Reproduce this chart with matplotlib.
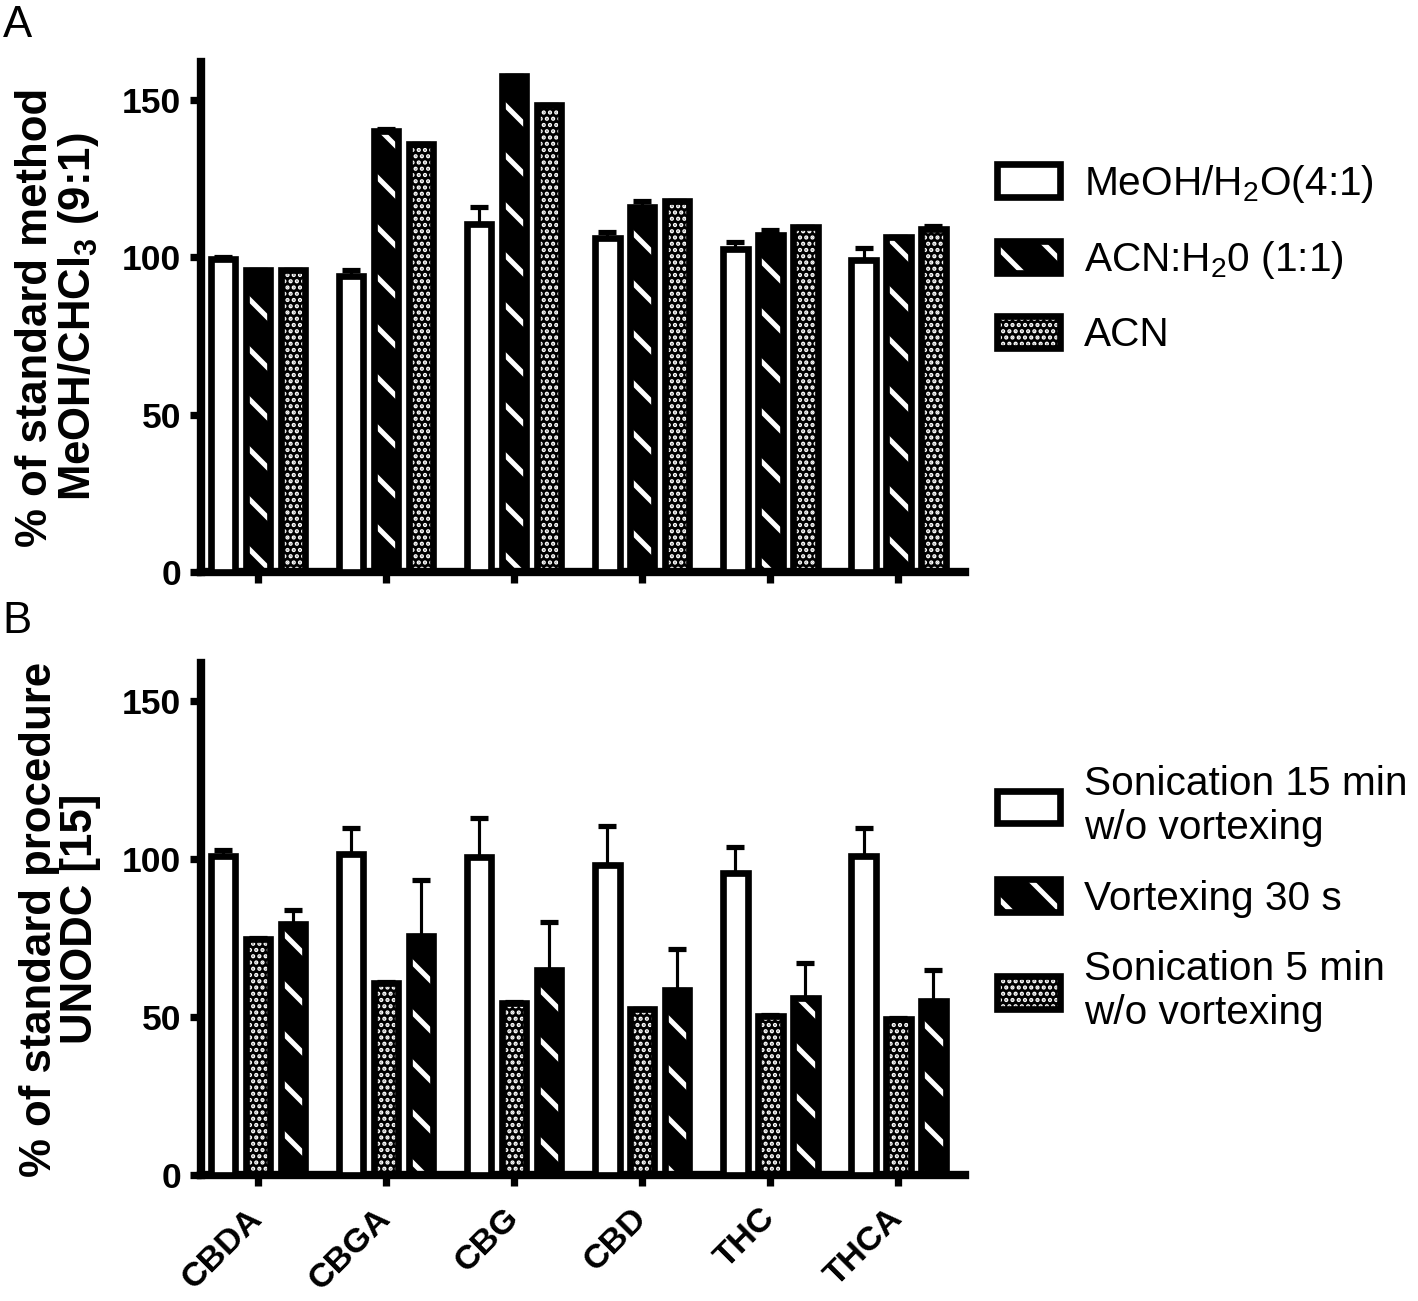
import numpy as np
import matplotlib
matplotlib.use("Agg")
import matplotlib.pyplot as plt
from matplotlib.patches import Patch

plt.rcParams['font.family'] = ['Liberation Sans', 'DejaVu Sans']
plt.rcParams['mathtext.fontset'] = 'custom'
plt.rcParams['mathtext.rm'] = 'Liberation Sans'
plt.rcParams['mathtext.bf'] = 'Liberation Sans:bold'
plt.rcParams['hatch.linewidth'] = 1.6

categories = ['CBDA', 'CBGA', 'CBG', 'CBD', 'THC', 'THCA']

# panel A: extraction solvent vs MeOH/CHCl3 (9:1)
a_meoh = [99.5, 94, 110.5, 106, 102.5, 99]
a_meoh_err = [0.5, 2, 5.5, 2, 2.3, 4]
a_acn_h2o = [96, 140, 157.5, 116, 107, 106.3]
a_acn_h2o_err = [0, 0.7, 0, 1.8, 1.8, 0]
a_acn = [96, 136, 148.5, 118, 109.5, 109]
a_acn_err = [0, 0, 0, 0, 0, 0.8]
a_labels = ['MeOH/H$_2$O(4:1)', 'ACN:H$_2$0 (1:1)', 'ACN']

# panel B: extraction procedure vs UNODC
b_son15 = [101, 101.5, 100.5, 98, 95.5, 101]
b_son15_err = [2, 8.3, 12.6, 12.4, 8.4, 8.7]
b_son5 = [74.7, 60.7, 54.5, 52.4, 50.3, 49.3]
b_son5_err = [0.3, 0.4, 0.2, 0.2, 0.5, 0.4]
b_vortex = [79.5, 75.5, 65, 58.5, 56, 55]
b_vortex_err = [4.5, 18, 15, 13, 11, 10]
b_labels = ['Sonication 15 min\nw/o vortexing', 'Vortexing 30 s', 'Sonication 5 min\nw/o vortexing']

W = 0.19
STEP = 0.273
EDGE = 3.2
STRIPE = '\\'
DOTS = '....'


def draw_bars(ax, x, vals, errs, style):
    if style == 'white':
        ax.bar(x, vals, W, facecolor='white', edgecolor='black', lw=EDGE, zorder=3)
    elif style == 'stripe':
        ax.bar(x, vals, W, facecolor='black', edgecolor='white', hatch=STRIPE, lw=0, zorder=2)
        ax.bar(x, vals, W, facecolor='none', edgecolor='black', lw=EDGE, zorder=3)
    else:
        ax.bar(x, vals, W, facecolor='black', edgecolor='white', hatch=DOTS, lw=0, zorder=2)
        ax.bar(x, vals, W, facecolor='none', edgecolor='black', lw=EDGE, zorder=3)
    ax.errorbar(x, vals, yerr=[np.zeros(len(vals)), errs], fmt='none', ecolor='black',
                elinewidth=1.5, capsize=4.5, capthick=2.5, zorder=4)


def handle(style):
    if style == 'white':
        return Patch(facecolor='white', edgecolor='black', lw=EDGE)
    hatch = STRIPE if style == 'stripe' else DOTS
    return (Patch(facecolor='black', edgecolor='white', hatch=hatch, lw=0),
            Patch(facecolor='none', edgecolor='black', lw=EDGE))


def style_axes(ax, ylabel):
    ax.set_xlim(-0.445, 5.52)
    ax.set_ylim(0, 162)
    ax.set_yticks([0, 50, 100, 150])
    ax.set_xticks(range(len(categories)))
    for s in ['top', 'right']:
        ax.spines[s].set_visible(False)
    for s in ['left', 'bottom']:
        ax.spines[s].set_linewidth(4)
    ax.tick_params(axis='both', width=3.5, length=5.5, labelsize=17, pad=4)
    for lab in ax.get_yticklabels():
        lab.set_fontweight('bold')
    ax.set_ylabel(ylabel, fontsize=21, fontweight='bold', linespacing=1.0, labelpad=10)


fig = plt.figure(figsize=(1418 / 150, 1301 / 150), dpi=150)
axA = fig.add_axes([0.1418, 0.5603, 0.5388, 0.392])
axB = fig.add_axes([0.1418, 0.0968, 0.5388, 0.3935])

x = np.arange(len(categories))
draw_bars(axA, x - STEP, a_meoh, a_meoh_err, 'white')
draw_bars(axA, x, a_acn_h2o, a_acn_h2o_err, 'stripe')
draw_bars(axA, x + STEP, a_acn, a_acn_err, 'dots')
style_axes(axA, '% of standard method\nMeOH/CHCl$_\\mathbf{3}$ (9:1)')
axA.set_xticklabels([])

draw_bars(axB, x - STEP, b_son15, b_son15_err, 'white')
draw_bars(axB, x, b_son5, b_son5_err, 'dots')
draw_bars(axB, x + STEP, b_vortex, b_vortex_err, 'stripe')
style_axes(axB, '% of standard procedure\nUNODC [15]')
axB.set_xticklabels(categories, rotation=45, ha='right', va='center', rotation_mode='anchor',
                    fontsize=16.5, fontweight='bold')
axB.tick_params(axis='x', pad=13)

leg_kw = dict(loc='upper left', frameon=False, borderpad=0, borderaxespad=0, fontsize=19.5,
              handlelength=1.55, handleheight=0.86, handletextpad=0.6)
fig.legend([handle('white'), handle('stripe'), handle('dots')], a_labels,
           bbox_to_anchor=(997 / 1418, 0.875), labelspacing=0.85, **leg_kw)
fig.legend([handle('white'), handle('stripe'), handle('dots')], b_labels,
           bbox_to_anchor=(997 / 1418, 0.412), labelspacing=0.8, **leg_kw)

fig.text(0.002, 0.996, 'A', fontsize=21, va='top', ha='left')
fig.text(0.002, 0.538, 'B', fontsize=21, va='top', ha='left')

# thicker white stripes, finer dots
for p in fig.findobj(Patch):
    if hasattr(p, 'set_hatch_linewidth'):
        if p.get_hatch() == STRIPE:
            p.set_hatch_linewidth(2.4)
        elif p.get_hatch() == DOTS:
            p.set_hatch_linewidth(1.4)

fig.savefig('out.png', dpi=150)
